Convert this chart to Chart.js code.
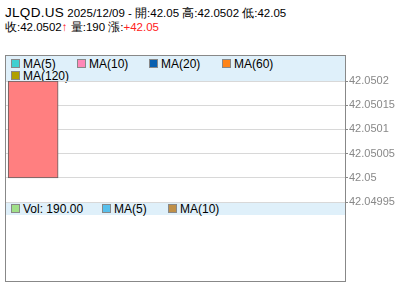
<!DOCTYPE html>
<html>
<head>
<meta charset="utf-8">
<script src="https://cdn.jsdelivr.net/npm/chart.js@4"></script>
<style>
  html, body { margin: 0; padding: 0; background: #fff; }
  body { width: 400px; height: 301px; position: relative; overflow: hidden;
         font-family: "Liberation Sans", Arial, sans-serif; color: #000; }
  #head1 { position: absolute; left: 5px; top: 5px; white-space: nowrap; font-size: 11.5px; }
  #head1 .sym { font-size: 13.5px; letter-spacing: 0.3px; }
  #head2 { position: absolute; left: 5px; top: 20px; white-space: nowrap; font-size: 11.5px; }
  .up { color: #ff2020; }
  .arrow { color: #ff2020; font-weight: bold; }
  .panel { position: absolute; left: 5px; width: 339px; border: 1px solid #888; }
  #mainPanel { top: 55px; height: 146px; border-bottom: 2px solid #888; }
  #volPanel { top: 202px; height: 79px; border-top: none; }
  .band { position: absolute; left: 0; right: 0; top: 0; background: #dff0fa; }
  #mainPanel .band { height: 25px; }
  #volPanel .band { height: 13px; }
  .item { position: absolute; font-size: 12px; line-height: 13px; white-space: nowrap; }
  .item i { display: inline-block; width: 7px; height: 7px; border: 1px solid #888;
            margin-right: 3px; vertical-align: 0px; }
  #c { position: absolute; left: 0; top: 0; }
</style>
</head>
<body>
<div id="head1"></div>
<div id="head2"></div>
<div class="panel" id="mainPanel"><div class="band" id="mainBand"></div></div>
<div class="panel" id="volPanel"><div class="band" id="volBand"></div></div>
<canvas id="c" width="400" height="301"></canvas>
<script>
// Données de la bougie
const symbol = 'JLQD.US';
const dates = ['2025/12/09'];
const opens = [42.05];
const highs = [42.0502];
const lows = [42.05];
const closes = [42.0502];
const volumes = [190];
const change = 42.05;

// Graduations de l'axe des prix
const yTicks = [42.0502, 42.05015, 42.0501, 42.05005, 42.05, 42.04995];

// Légendes
const maNames = ['MA(5)', 'MA(10)', 'MA(20)', 'MA(60)', 'MA(120)'];
const maColors = ['#40d0d0', '#ff88b8', '#0860b0', '#ff8418', '#b0a000'];
const volNames = ['Vol: ' + volumes[0].toFixed(2), 'MA(5)', 'MA(10)'];
const volColors = ['#a0e088', '#58c0ec', '#c09048'];

// En-tête
document.getElementById('head1').innerHTML =
  '<span class="sym">' + symbol + '</span> ' + dates[0] + ' - 開:' + opens[0] +
  ' 高:' + highs[0] + ' 低:' + lows[0];
document.getElementById('head2').innerHTML =
  '收:' + closes[0] + '<span class="arrow">&#8593;</span> 量:' + volumes[0] +
  ' 漲:<span class="up">+' + change + '</span>';

// Placement des légendes
const maPos = [[5, 2], [71, 2], [143, 2], [216, 2], [5, 14]];
const band = document.getElementById('mainBand');
maNames.forEach((n, i) => {
  const d = document.createElement('div');
  d.className = 'item';
  d.style.left = maPos[i][0] + 'px';
  d.style.top = maPos[i][1] + 'px';
  d.innerHTML = '<i style="background:' + maColors[i] + '"></i>' + n;
  band.appendChild(d);
});
const volPos = [5, 96, 162];
const vband = document.getElementById('volBand');
volNames.forEach((n, i) => {
  const d = document.createElement('div');
  d.className = 'item';
  d.style.left = volPos[i] + 'px';
  d.style.top = '1px';
  d.innerHTML = '<i style="background:' + volColors[i] + '"></i>' + n;
  vband.appendChild(d);
});

const candleData = dates.map((d, i) => ({ x: i, y: [opens[i], closes[i]] }));

new Chart(document.getElementById('c'), {
  type: 'bar',
  data: {
    datasets: [{
      data: candleData,
      backgroundColor: '#ff7f80',
      borderColor: '#606060',
      borderWidth: 1,
      borderSkipped: false,
      barThickness: 50
    }]
  },
  options: {
    responsive: false,
    animation: false,
    layout: { padding: { left: 6, top: 81, bottom: 99, right: 0 } },
    plugins: { legend: { display: false }, tooltip: { enabled: false } },
    scales: {
      x: { type: 'linear', min: -0.48, max: 5.52, offset: false, display: false },
      y: {
        position: 'right',
        min: 42.04995,
        max: 42.0502,
        afterBuildTicks: (s) => { s.ticks = yTicks.map(v => ({ value: v })); },
        afterFit: (s) => { s.width = 55; },
        border: { display: false },
        grid: { color: '#d8d8d8', drawTicks: true, tickLength: 3, tickColor: '#888' },
        ticks: {
          color: '#888',
          padding: 1,
          font: { family: 'Liberation Sans', size: 11 },
          callback: (v) => String(+v.toFixed(5))
        }
      }
    }
  }
});
</script>
</body>
</html>
